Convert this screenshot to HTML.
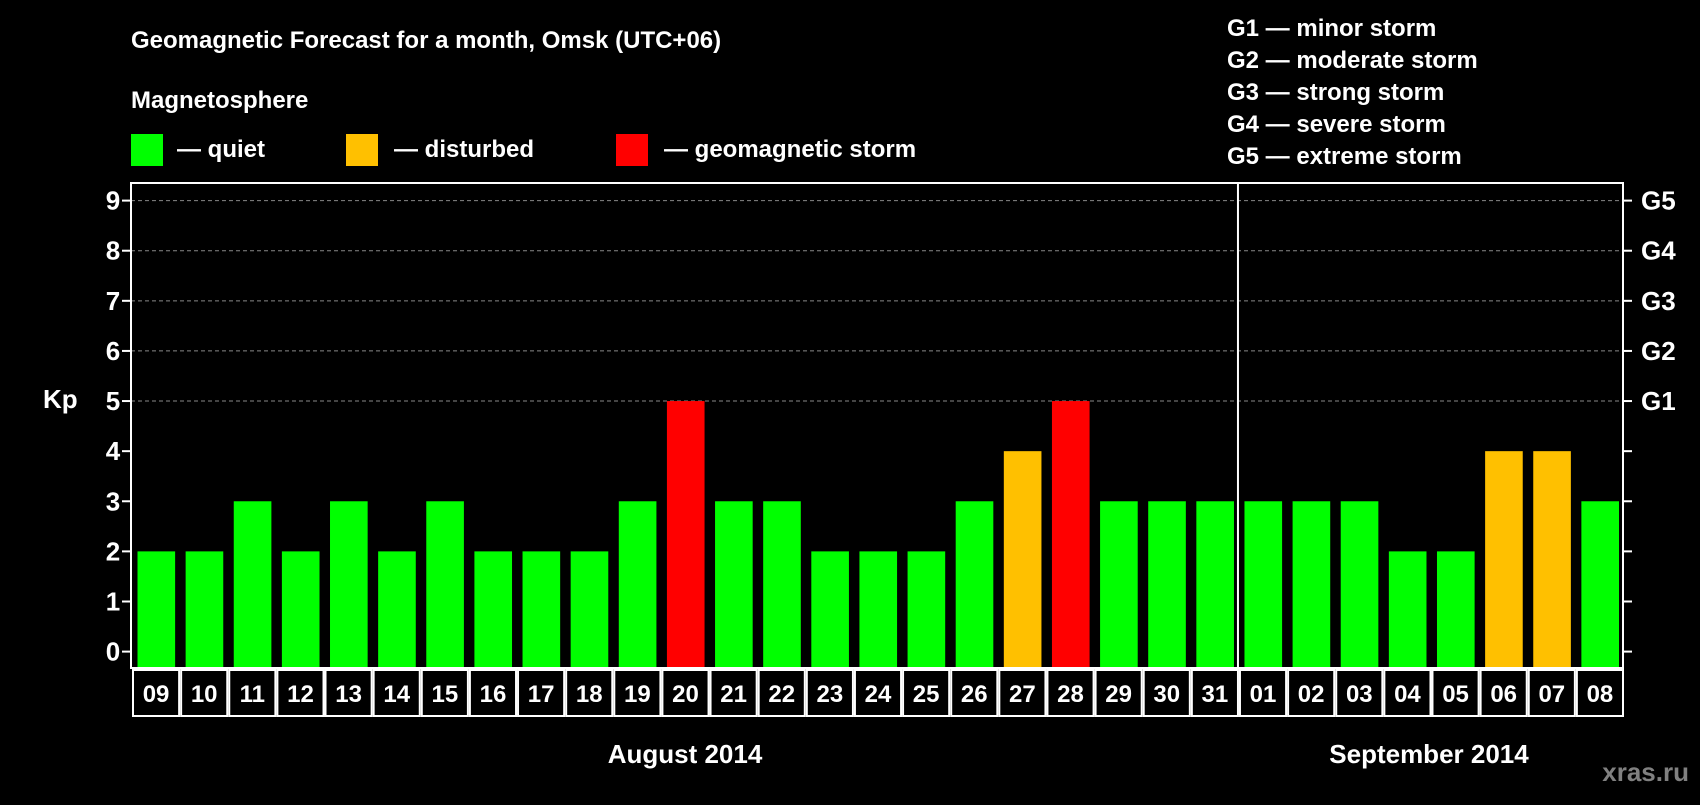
<!DOCTYPE html>
<html><head><meta charset="utf-8"><style>
html,body{margin:0;padding:0;background:#000;}
svg text{font-family:"Liberation Sans",Arial,sans-serif;font-weight:bold;fill:#fff;}
</style></head><body>
<svg width="1700" height="800" viewBox="0 0 1700 800">
<text x="131" y="48" font-size="24">Geomagnetic Forecast for a month, Omsk (UTC+06)</text>
<text x="131" y="108" font-size="24">Magnetosphere</text>
<rect x="131" y="134" width="32" height="32" fill="#00ff00"/>
<text x="177" y="157" font-size="24">— quiet</text>
<rect x="346" y="134" width="32" height="32" fill="#ffc000"/>
<text x="394" y="157" font-size="24">— disturbed</text>
<rect x="616" y="134" width="32" height="32" fill="#ff0000"/>
<text x="664" y="157" font-size="24">— geomagnetic storm</text>
<g font-size="24">
<text x="1227" y="36">G1 — minor storm</text>
<text x="1227" y="68">G2 — moderate storm</text>
<text x="1227" y="100">G3 — strong storm</text>
<text x="1227" y="132">G4 — severe storm</text>
<text x="1227" y="164">G5 — extreme storm</text>
</g>
<text x="43" y="408" font-size="26">Kp</text>
<g id="chart"></g>
<text x="685" y="763" font-size="26" text-anchor="middle">August 2014</text>
<text x="1429" y="763" font-size="26" text-anchor="middle">September 2014</text>
<text x="1689" y="781" font-size="26" text-anchor="end" style="fill:#808080">xras.ru</text>
</svg>
<script>
const days=["09","10","11","12","13","14","15","16","17","18","19","20","21","22","23","24","25","26","27","28","29","30","31","01","02","03","04","05","06","07","08"];
const kp=[2,2,3,2,3,2,3,2,2,2,3,5,3,3,2,2,2,3,4,5,3,3,3,3,3,3,2,2,4,4,3];
const yTicks=[0,1,2,3,4,5,6,7,8,9];
const gLabels=["G1","G2","G3","G4","G5"];
const L=131,R=1623,T=183,B=668,Y0=651.6,Y9=200.6;
const NS="http://www.w3.org/2000/svg";
const g=document.getElementById('chart');
const y=v=>Y0+(Y9-Y0)*v/9;
const cw=(R-L)/days.length;
const x=i=>L+i*cw;
const color=v=>v>=5?"#ff0000":(v>=4?"#ffc000":"#00ff00");
function mk(tag,a){const e=document.createElementNS(NS,tag);for(const k in a)e.setAttribute(k,a[k]);g.appendChild(e);return e;}
yTicks.forEach(t=>{
 if(t>=5){const l=mk('line',{x1:L,x2:R,y1:y(t),y2:y(t),stroke:'#888','stroke-dasharray':'4,3','stroke-width':1});
 
 }
 const a=mk('line',{x1:L-9,x2:L,y1:y(t),y2:y(t),stroke:'#fff','stroke-width':2});
 
 
 const b=mk('line',{x1:R,x2:R+9,y1:y(t),y2:y(t),stroke:'#fff','stroke-width':2});
 
 
 const tx=mk('text',{x:113,y:y(t)+9,'font-size':26,'text-anchor':'middle'});tx.textContent=t;
 
 
});
gLabels.forEach((s,i)=>{
 const tx=mk('text',{x:1641,y:y(5+i)+9,'font-size':26});tx.textContent=s;
 
 
});
kp.forEach((v,i)=>{
 const r=mk('rect',{x:x(i)+6.5,y:y(v),width:cw-10.5,height:B-y(v)-1,fill:color(v)});
 
 
 const c=mk('rect',{x:x(i)+2,y:B+2,width:cw-2,height:46,fill:'none',stroke:'#fff','stroke-width':2});
 
 
 const tx=mk('text',{x:x(i)+cw/2+1,y:B+34,'font-size':24,'text-anchor':'middle'});tx.textContent=days[i];
 
 
});
const f=mk('rect',{x:L,y:T,width:R-L,height:B-T,fill:'none',stroke:'#fff','stroke-width':2});


const sep=days.indexOf("01");
const s=mk('line',{x1:x(sep),x2:x(sep),y1:T,y2:B,stroke:'#fff','stroke-width':2});


</script>
</body></html>
